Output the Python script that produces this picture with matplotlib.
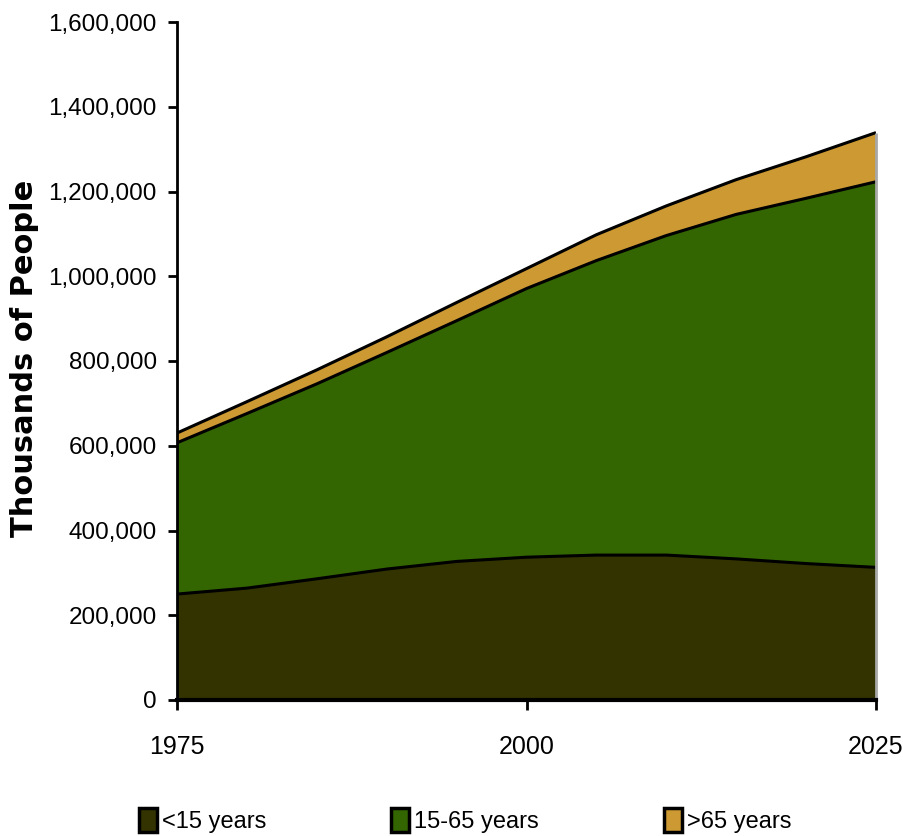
import matplotlib
matplotlib.use('Agg')
import matplotlib.pyplot as plt
import numpy as np
from matplotlib.patches import Patch
from matplotlib.ticker import FuncFormatter

# ---- data (thousands of people) ----
years = [1975, 1980, 1985, 1990, 1995, 2000, 2005, 2010, 2015, 2020, 2025]
under15 = [250000, 264000, 286000, 309000, 327000, 337000, 342000, 342000, 333000, 322000, 313000]
age15_65 = [357000, 412000, 460000, 511000, 568000, 634000, 695000, 754000, 813000, 862000, 910000]
over65 = [23000, 28000, 33000, 37000, 43000, 47000, 61000, 70000, 82000, 98000, 116000]
series_labels = ['<15 years', '15-65 years', '>65 years']
colors = ['#333300', '#336600', '#CC9933']
x_ticks = [1975, 2000, 2025]
y_ticks = [0, 200000, 400000, 600000, 800000, 1000000, 1200000, 1400000, 1600000]
y_label = 'Thousands of People'

plt.rcParams['font.family'] = ['Liberation Sans', 'DejaVu Sans']

W, H = 904, 836
fig = plt.figure(figsize=(W / 100, H / 100), dpi=100)
ax = fig.add_axes([177 / W, 1 - 700 / H, (876 - 177) / W, 678 / H])

x = np.array(years, dtype=float)
layers = [np.array(under15, float), np.array(age15_65, float), np.array(over65, float)]
base = np.zeros_like(x)
for vals, c in zip(layers, colors):
    top = base + vals
    ax.fill_between(x, base, top, facecolor=c, edgecolor='none', linewidth=0, zorder=1)
    base = top
# boundary lines
cum = np.zeros_like(x)
for vals in layers:
    cum = cum + vals
    ax.plot(x, cum, color='black', lw=2.2, zorder=3, solid_capstyle='butt')
# right edge shading
ax.vlines(x[-1], 0, cum[-1], color='#a8a8a8', lw=2, zorder=4, clip_on=False)

ax.set_xlim(years[0], years[-1])
ax.set_ylim(y_ticks[0], y_ticks[-1])
ax.set_xticks(x_ticks)
ax.set_yticks(y_ticks)
ax.yaxis.set_major_formatter(FuncFormatter(lambda v, p: f"{int(v):,}"))

for s in ['top', 'right']:
    ax.spines[s].set_visible(False)
ax.spines['left'].set_linewidth(2)
ax.spines['bottom'].set_linewidth(3)
ax.spines['left'].set_zorder(5)
ax.spines['bottom'].set_zorder(5)

ax.tick_params(axis='y', direction='out', length=6.5, width=2, pad=8, labelsize=17.5)
ax.tick_params(axis='x', direction='out', length=7, width=2, pad=18, labelsize=18)

fig.text(25 / W, 1 - 358 / H, y_label, rotation=90, ha='center', va='center',
         fontsize=22, fontweight='bold', family='DejaVu Sans')

handles = [Patch(facecolor=c, edgecolor='black', linewidth=2.5) for c in colors]
fig.legend(handles, series_labels, loc='lower left', bbox_to_anchor=(139 / W, 3 / H),
           ncol=3, frameon=False, fontsize=17, handlelength=0.76, handleheight=1.14,
           handletextpad=0.21, columnspacing=5.3, borderaxespad=0, borderpad=0)

fig.savefig('out.png', dpi=100)
